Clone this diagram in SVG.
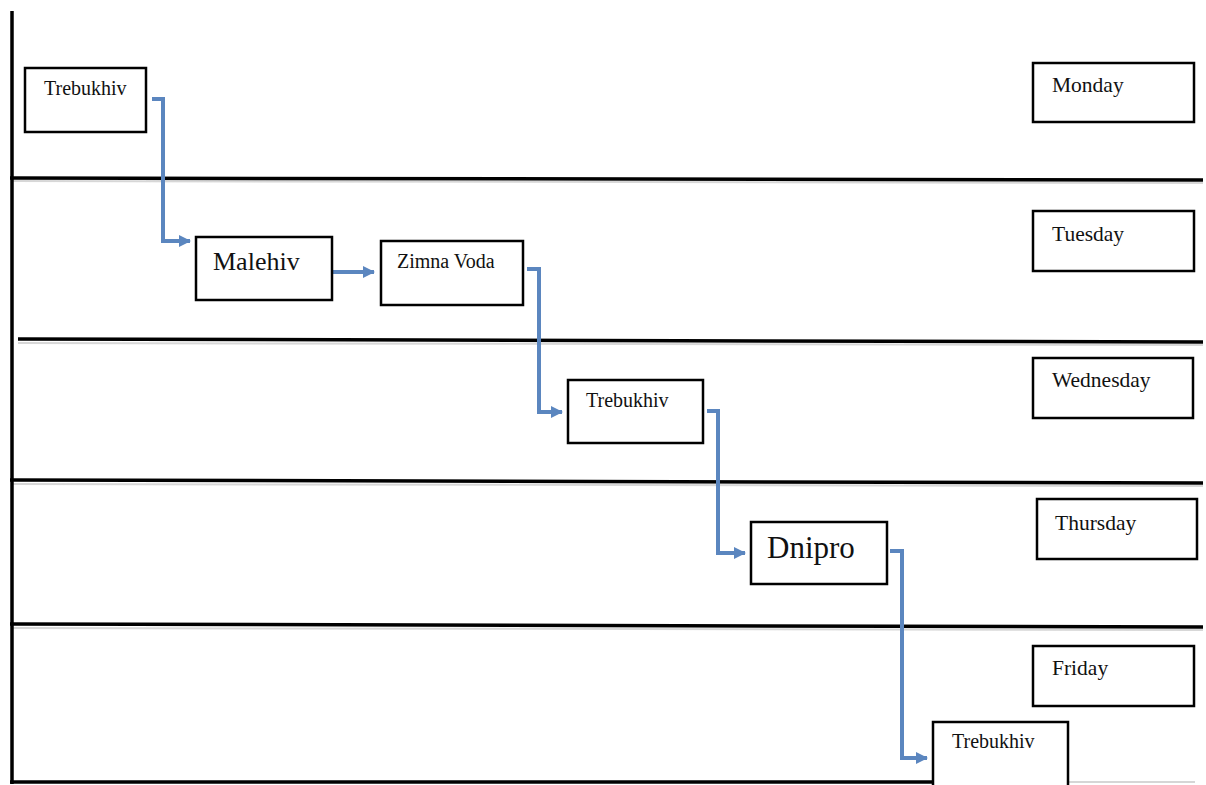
<svg xmlns="http://www.w3.org/2000/svg" width="1206" height="785" viewBox="0 0 1206 785">
  <style>
    .axis { stroke: #000; stroke-width: 3.5; fill: none; stroke-linecap: butt; }
    .shadow { stroke: #bdbdbd; stroke-width: 2; fill: none; opacity: 0.6; }
    .box { fill: #fff; stroke: #000; stroke-width: 2.5; }
    .lbl { fill: #111; }
    .flow { stroke: #5b86bf; stroke-width: 4; fill: none; stroke-linejoin: miter; }
  </style>
  <defs>
    <marker id="arrow" markerWidth="14" markerHeight="14" refX="11" refY="7" orient="auto" markerUnits="userSpaceOnUse">
      <path d="M0,1 L12,7 L0,13 Z" fill="#5b86bf"/>
    </marker>
  </defs>
  <rect width="1206" height="785" fill="#fff"/>

  <!-- day separators and axes -->
  <g id="grid">
    <line class="shadow" x1="12" y1="181" x2="1203" y2="183"/>
    <line class="shadow" x1="18" y1="343" x2="1203" y2="345"/>
    <line class="shadow" x1="12" y1="484" x2="1203" y2="486"/>
    <line class="shadow" x1="12" y1="628" x2="1203" y2="630"/>
    <line class="axis" x1="12" y1="11" x2="12" y2="784"/>
    <line class="axis" x1="10" y1="178" x2="1203" y2="180"/>
    <line class="axis" x1="18" y1="339" x2="1203" y2="342"/>
    <line class="axis" x1="10" y1="480" x2="1203" y2="483"/>
    <line class="axis" x1="10" y1="624" x2="1203" y2="627"/>
    <line class="axis" x1="10" y1="782" x2="1045" y2="782"/>
    <line stroke="#c8c8c8" stroke-width="1.5" x1="1045" y1="782" x2="1195" y2="782"/>
  </g>

  <!-- route connectors -->
  <g id="connectors">
    <polyline class="flow" points="152,99 163,99 163,241 190,241" marker-end="url(#arrow)"/>
    <polyline class="flow" points="333,272 374,272" marker-end="url(#arrow)"/>
    <polyline class="flow" points="527,269 539,269 539,412 562,412" marker-end="url(#arrow)"/>
    <polyline class="flow" points="707,411 718,411 718,553 745,553" marker-end="url(#arrow)"/>
    <polyline class="flow" points="890,551 902,551 902,758 927,758" marker-end="url(#arrow)"/>
  </g>

  <g font-family="'Liberation Serif', 'DejaVu Serif', serif">
    <!-- route stops -->
    <g id="trebukhiv-mon">
      <rect class="box" x="25" y="68" width="121" height="64"/>
      <text class="lbl" x="44" y="95" font-size="20">Trebukhiv</text>
    </g>
    <g id="malehiv">
      <rect class="box" x="196" y="237" width="136" height="63"/>
      <text class="lbl" x="213" y="270" font-size="26">Malehiv</text>
    </g>
    <g id="zimna-voda">
      <rect class="box" x="381" y="241" width="142" height="64"/>
      <text class="lbl" x="397" y="268" font-size="20">Zimna Voda</text>
    </g>
    <g id="trebukhiv-wed">
      <rect class="box" x="568" y="380" width="135" height="63"/>
      <text class="lbl" x="586" y="407" font-size="20">Trebukhiv</text>
    </g>
    <g id="dnipro">
      <rect class="box" x="751" y="522" width="136" height="62"/>
      <text class="lbl" x="767" y="558" font-size="31">Dnipro</text>
    </g>
    <g id="trebukhiv-fri">
      <rect class="box" x="933" y="722" width="135" height="70"/>
      <text class="lbl" x="952" y="748" font-size="20">Trebukhiv</text>
    </g>

    <!-- day labels -->
    <g id="monday">
      <rect class="box" x="1033" y="63" width="161" height="59"/>
      <text class="lbl" x="1052" y="92" font-size="21.5">Monday</text>
    </g>
    <g id="tuesday">
      <rect class="box" x="1033" y="211" width="161" height="60"/>
      <text class="lbl" x="1052" y="241" font-size="21.5">Tuesday</text>
    </g>
    <g id="wednesday">
      <rect class="box" x="1033" y="358" width="160" height="60"/>
      <text class="lbl" x="1052" y="387" font-size="21.5">Wednesday</text>
    </g>
    <g id="thursday">
      <rect class="box" x="1037" y="499" width="160" height="60"/>
      <text class="lbl" x="1055" y="530" font-size="21.5">Thursday</text>
    </g>
    <g id="friday">
      <rect class="box" x="1033" y="646" width="161" height="60"/>
      <text class="lbl" x="1052" y="675" font-size="21.5">Friday</text>
    </g>
  </g>
</svg>
